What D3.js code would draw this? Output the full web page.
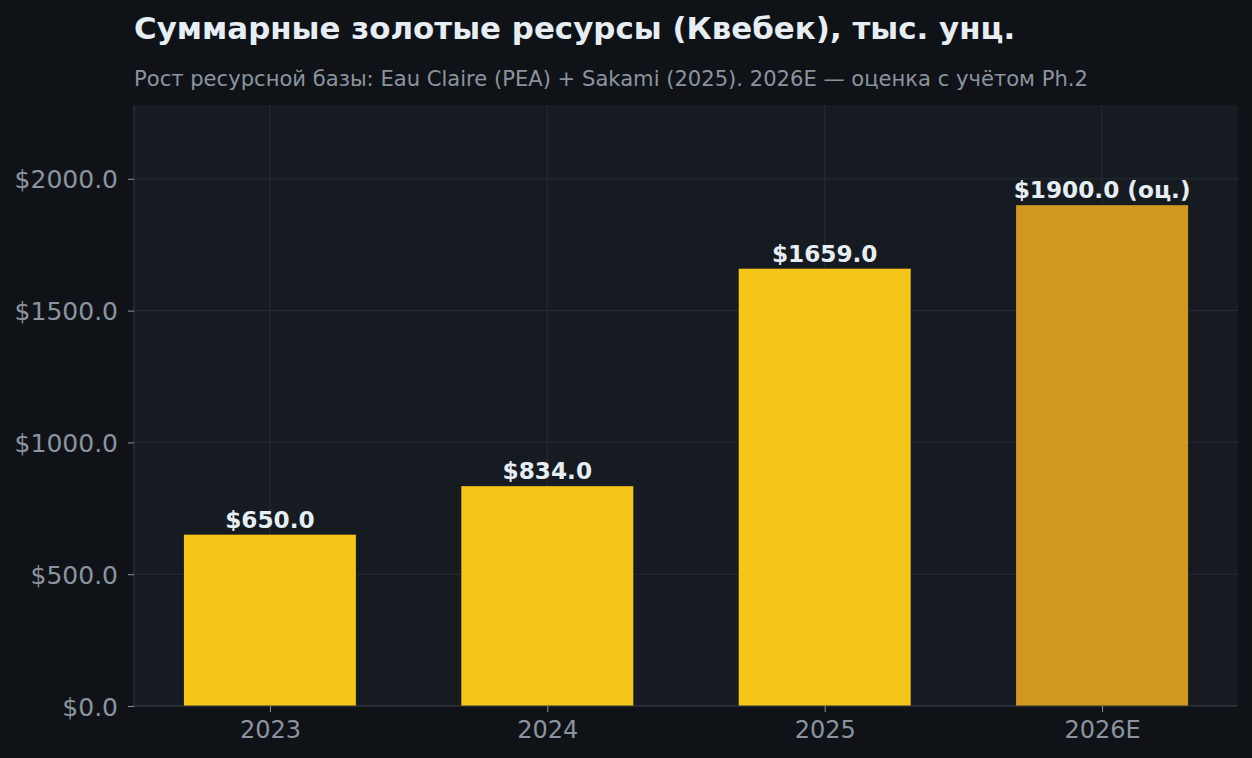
<!DOCTYPE html>
<html><head><meta charset="utf-8">
<script src="https://cdn.jsdelivr.net/npm/d3@7"></script>
<style>
html,body{margin:0;padding:0;background:#0f1318;}
svg{display:block;}
text{font-family:"DejaVu Sans",sans-serif;}
</style></head>
<body><svg id="c" width="1252" height="758"></svg>
<script>
const categories = ["2023","2024","2025","2026E"];
const values = [650, 834, 1659, 1900];
const estimated = [false, false, false, true];
const yTicks = [0, 500, 1000, 1500, 2000];
const titleText = "Суммарные золотые ресурсы (Квебек), тыс. унц.";
const subtitleText = "Рост ресурсной базы: Eau Claire (PEA) + Sakami (2025). 2026E — оценка с учётом Ph.2";

const W = 1252, H = 758;
const m = {left:134, right:14, top:105, bottom:52};
const svg = d3.select("#c");
svg.append("rect").attr("width",W).attr("height",H).attr("fill","#0f1318");

const x = d3.scaleLinear().domain([-0.49, 3.49]).range([m.left, W - m.right]);
const y = d3.scaleLinear().domain([0, 2280]).range([H - m.bottom, m.top]);
const barW = 0.62;

svg.append("rect").attr("x", m.left).attr("y", m.top)
  .attr("width", W - m.right - m.left).attr("height", H - m.bottom - m.top)
  .attr("fill", "#161b22");

// grid
const g = svg.append("g");
g.selectAll("line.hg").data(yTicks).join("line")
  .attr("x1", m.left).attr("x2", W - m.right)
  .attr("y1", d => y(d)).attr("y2", d => y(d))
  .attr("stroke", "#262c35").attr("stroke-width", 1);
g.selectAll("line.vg").data(categories).join("line")
  .attr("x1", (d,i) => x(i)).attr("x2", (d,i) => x(i))
  .attr("y1", m.top).attr("y2", H - m.bottom)
  .attr("stroke", "#262c35").attr("stroke-width", 1);

// bars
svg.selectAll("rect.bar").data(values).join("rect")
  .attr("class","bar")
  .attr("x", (d,i) => x(i - barW/2))
  .attr("width", (d,i) => x(i + barW/2) - x(i - barW/2))
  .attr("y", d => y(d))
  .attr("height", d => y(0) - y(d))
  .attr("fill", (d,i) => estimated[i] ? "#d29922" : "#f5c518");

// value labels
svg.selectAll("text.lbl").data(values).join("text")
  .attr("x", (d,i) => x(i))
  .attr("y", d => y(d) - 7)
  .attr("text-anchor","middle")
  .attr("font-size", 23.2).attr("font-weight","bold")
  .attr("fill", "#e6edf3")
  .text((d,i) => "$" + d.toFixed(1) + (estimated[i] ? " (оц.)" : ""));

// axes
const yAxis = d3.axisLeft(y).tickValues(yTicks).tickSize(6).tickPadding(10)
  .tickFormat(d => "$" + d.toFixed(1));
const ya = svg.append("g").attr("transform", `translate(${m.left},0)`).call(yAxis);
ya.select(".domain").attr("stroke", "#30363d").attr("d", `M0,${m.top}V${H - m.bottom}`);
ya.selectAll(".tick line").attr("stroke", "#8b949e");
ya.selectAll(".tick text").attr("fill", "#8b949e").attr("font-size", 25)
  .attr("font-family", "DejaVu Sans").attr("dy", "0.36em");

const xAxis = d3.axisBottom(x).tickValues(d3.range(categories.length)).tickSize(6).tickPadding(9)
  .tickFormat(i => categories[i]);
const xa = svg.append("g").attr("transform", `translate(0,${H - m.bottom})`).call(xAxis);
xa.select(".domain").attr("stroke", "#30363d").attr("d", `M${m.left},0H${W - m.right}`);
xa.selectAll(".tick line").attr("stroke", "#8b949e");
xa.selectAll(".tick text").attr("fill", "#8b949e").attr("font-size", 24)
  .attr("font-family", "DejaVu Sans");

// titles
svg.append("text").attr("x", m.left).attr("y", 39)
  .attr("font-size", 30.9).attr("font-weight", "bold").attr("fill", "#e6edf3")
  .text(titleText);
svg.append("text").attr("x", m.left).attr("y", 86)
  .attr("font-size", 21.1).attr("fill", "#8b949e")
  .text(subtitleText);
</script></body></html>
